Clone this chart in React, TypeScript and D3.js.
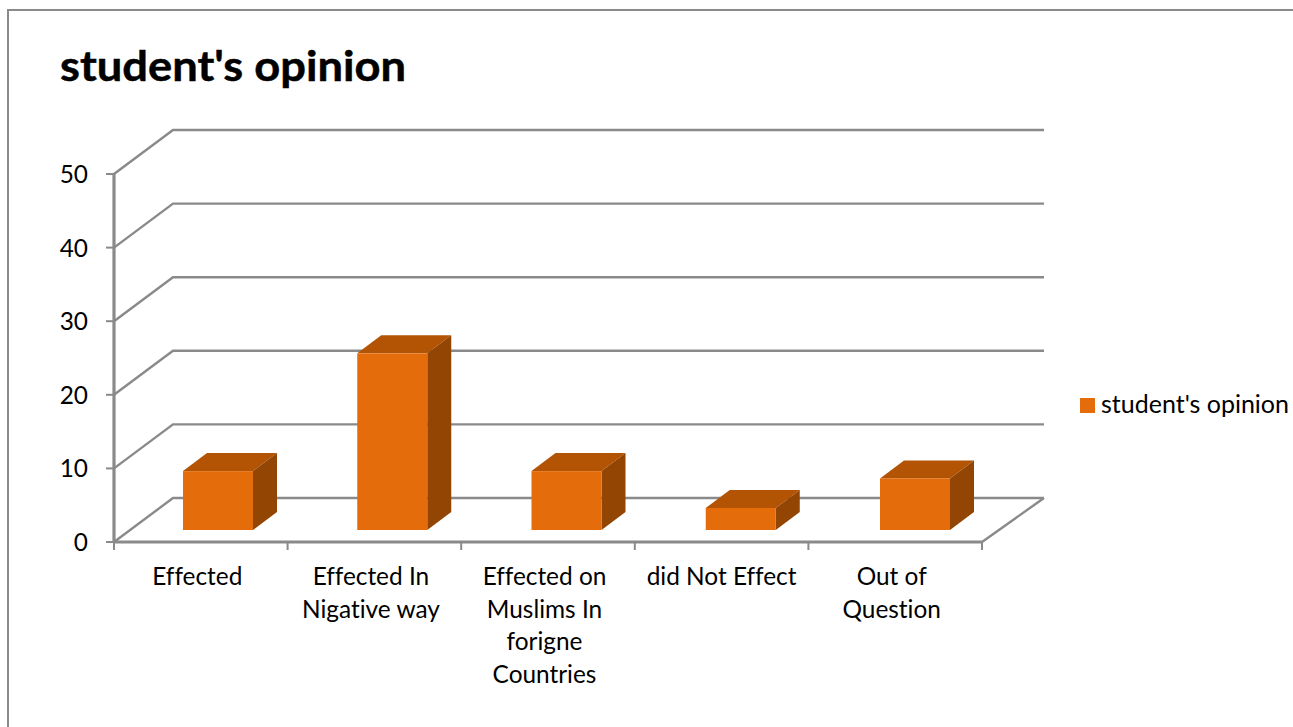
import * as d3 from 'd3';
import { useEffect, useRef } from 'react';

const categories = ["Effected", "Effected In Nigative way", "Effected on Muslims In forigne Countries", "did Not Effect", "Out of Question"];
const categoryLines = [["Effected"], ["Effected In", "Nigative way"], ["Effected on", "Muslims In", "forigne", "Countries"], ["did Not Effect"], ["Out of", "Question"]];
const values = [8, 24, 8, 3, 7];
const yTicks = [0, 10, 20, 30, 40, 50];
const seriesName = "student's opinion";

const App = () => {
    const ref = useRef<SVGSVGElement>(null);
    useEffect(() => {
        const svg = d3.select(ref.current);
        svg.selectAll("*").remove();
        const font = "Lato, 'Open Sans', sans-serif";
        const grey = "#8a8a8a";
        const depthX = 59, depthY = -44; // floor depth
        const x = d3.scaleBand<string>().domain(categories).range([114, 982]);
        // bars sit on a slightly wider step than the axis ticks
        const xBar = d3.scaleBand<string>().domain(categories).range([183, 183 + 5 * 174.25]);
        const y = d3.scaleLinear().domain([0, 50]).range([542, 174]);

        // chart frame
        svg.append("rect").attr("x", 8).attr("y", 10).attr("width", 1400).attr("height", 800)
            .attr("fill", "#fff").attr("stroke", grey).attr("stroke-width", 2);

        // title
        svg.append("text").attr("x", 60).attr("y", 81).attr("font-family", font)
            .attr("font-size", 42).attr("font-weight", 700).attr("fill", "#000")
            .attr("stroke", "#000").attr("stroke-width", 0.5)
            .style("font-variant-ligatures", "none")
            .attr("textLength", 346).attr("lengthAdjust", "spacingAndGlyphs").text(seriesName);

        // back wall grid + side wall diagonals
        yTicks.forEach((t) => {
            svg.append("path")
                .attr("d", `M114,${y(t)}L${114 + depthX},${y(t) + depthY}L1044,${y(t) + depthY}`)
                .attr("fill", "none").attr("stroke", grey).attr("stroke-width", 2.4);
            svg.append("line").attr("x1", 106).attr("x2", 114).attr("y1", y(t)).attr("y2", y(t))
                .attr("stroke", grey).attr("stroke-width", 2);
            svg.append("text").attr("x", 88).attr("y", y(t) + 9).attr("text-anchor", "end")
                .attr("font-family", font).attr("font-size", 24.4).attr("fill", "#000").text(t);
        });

        // floor right edge, axes
        svg.append("line").attr("x1", 982).attr("y1", y(0)).attr("x2", 1044).attr("y2", y(0) + depthY)
            .attr("stroke", grey).attr("stroke-width", 2.4);
        svg.append("line").attr("x1", 114).attr("x2", 114).attr("y1", y(50)).attr("y2", y(0))
            .attr("stroke", grey).attr("stroke-width", 3.2);
        svg.append("line").attr("x1", 114).attr("x2", 982).attr("y1", y(0)).attr("y2", y(0))
            .attr("stroke", grey).attr("stroke-width", 3.2);
        categories.concat("").forEach((c, i) => {
            const px = c ? (x(c) as number) : 982;
            svg.append("line").attr("x1", px).attr("x2", px).attr("y1", y(0)).attr("y2", y(0) + 8)
                .attr("stroke", grey).attr("stroke-width", 2);
            if (c) {
                const nudge = i === 3 ? 0 : -3.5; // the single long label sits nearer the band centre
                categoryLines[i].forEach((line, j) => {
                    svg.append("text").attr("x", px + x.bandwidth() / 2 + nudge).attr("y", 585 + j * 32.7)
                        .attr("text-anchor", "middle").attr("font-family", font).attr("font-size", 24.4)
                        .style("font-variant-ligatures", "none")
                        .attr("fill", "#000").text(line);
                });
            }
        });

        // bars
        const barW = 70, floorGap = 12, dx = 24, dy = -18;
        values.forEach((v, i) => {
            const left = xBar(categories[i]) as number;
            const right = left + barW;
            const bottom = y(0) - floorGap;
            const top = y(v) - floorGap;
            svg.append("path")
                .attr("d", `M${left},${top}L${left + dx},${top + dy}L${right + dx},${top + dy}L${right},${top}Z`)
                .attr("fill", "#b25404");
            svg.append("path")
                .attr("d", `M${right},${top}L${right + dx},${top + dy}L${right + dx},${bottom + dy}L${right},${bottom}Z`)
                .attr("fill", "#934503");
            svg.append("rect").attr("x", left).attr("y", top).attr("width", barW).attr("height", bottom - top)
                .attr("fill", "#e46c0a");
        });

        // legend
        svg.append("rect").attr("x", 1080).attr("y", 398).attr("width", 15).attr("height", 15).attr("fill", "#e46c0a");
        svg.append("text").attr("x", 1101).attr("y", 413).attr("font-family", font).attr("font-size", 24.4)
            .style("font-variant-ligatures", "none")
            .attr("fill", "#000").attr("textLength", 188).attr("lengthAdjust", "spacingAndGlyphs").text(seriesName);
    }, []);
    return (
        <svg ref={ref} width={1293} height={727} style={{ position: "absolute", left: 0, top: 0, background: "#fff" }} />
    );
};
export default App;
